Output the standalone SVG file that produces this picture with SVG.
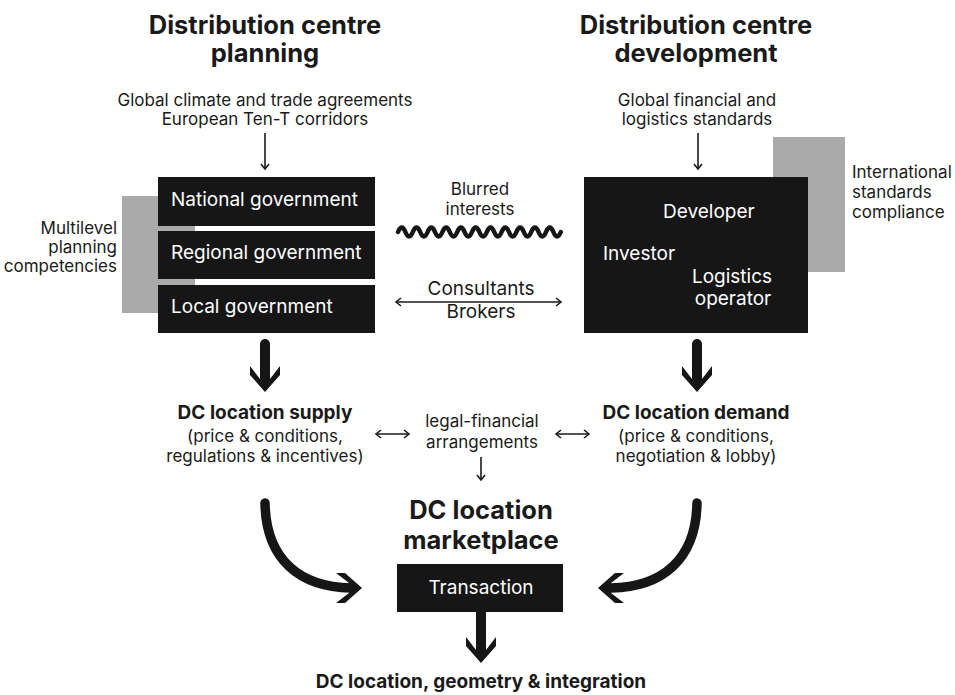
<svg xmlns="http://www.w3.org/2000/svg" width="955" height="695" viewBox="0 0 955 695">
<style>
text{font-family:Inter,"Liberation Sans",sans-serif;fill:#1a1a1a}
.t{font-size:25.5px;font-weight:700;text-anchor:middle}
.s{font-size:17px;text-anchor:middle}
.sb{font-size:19px;font-weight:700;text-anchor:middle}
.w{fill:#fff;font-size:19px}
.box{fill:#161616}
.gray{fill:#aaaaaa}
.thin{stroke:#1a1a1a;stroke-width:1.6;fill:none}
.thick{stroke:#161616;stroke-width:10;fill:none;stroke-linecap:round}
.head{fill:#161616}
</style>
<defs>
<marker id="ah" viewBox="-7 -6 9 12" markerWidth="9" markerHeight="12" refX="0" refY="0" orient="auto-start-reverse" markerUnits="userSpaceOnUse">
<path d="M-5,-4 L0,0 L-5,4" fill="none" stroke="#1a1a1a" stroke-width="1.6"/>
</marker>
<path id="hd" d="M0,0 L-17,-15 L-26,-15 L-13,-5 L-13,5 L-26,15 L-17,15 Z"/>
</defs>

<g id="title-planning">
<text class="t" x="265" y="34">Distribution centre</text>
<text class="t" x="265" y="62">planning</text>
</g>
<g id="title-development">
<text class="t" x="696" y="34">Distribution centre</text>
<text class="t" x="696" y="62">development</text>
</g>
<g id="global-climate">
<text class="s" x="265" y="106">Global climate and trade agreements</text>
<text class="s" x="265" y="125">European Ten-T corridors</text>
</g>
<g id="global-financial">
<text class="s" x="697" y="106">Global financial and</text>
<text class="s" x="697" y="125">logistics standards</text>
</g>

<g id="multilevel">
<rect class="gray" x="122" y="196" width="73" height="117"/>
<text class="s" x="117" y="234" style="text-anchor:end">Multilevel</text>
<text class="s" x="117" y="253" style="text-anchor:end">planning</text>
<text class="s" x="117" y="272" style="text-anchor:end">competencies</text>
</g>
<g id="national">
<rect class="box" x="158" y="177" width="217" height="49"/>
<text class="w" x="171" y="206">National government</text>
</g>
<g id="regional">
<rect class="box" x="158" y="231" width="217" height="48"/>
<text class="w" x="171" y="259">Regional government</text>
</g>
<g id="local">
<rect class="box" x="158" y="285" width="217" height="48"/>
<text class="w" x="171" y="313">Local government</text>
</g>

<g id="international">
<rect class="gray" x="773" y="137" width="72" height="135"/>
<text class="s" x="852" y="178" style="text-anchor:start">International</text>
<text class="s" x="852" y="198" style="text-anchor:start">standards</text>
<text class="s" x="852" y="218" style="text-anchor:start">compliance</text>
</g>
<g id="development-actors">
<rect class="box" x="584" y="177" width="224" height="156"/>
<text class="w" x="663" y="218">Developer</text>
<text class="w" x="603" y="260">Investor</text>
<text class="w" x="732" y="283" text-anchor="middle">Logistics</text>
<text class="w" x="733" y="305" text-anchor="middle">operator</text>
</g>

<g id="blurred">
<text class="s" x="480" y="195">Blurred</text>
<text class="s" x="480" y="215">interests</text>
</g>
<g id="consultants">
<text x="481" y="295" style="font-size:19px;text-anchor:middle">Consultants</text>
<text x="481" y="318" style="font-size:19px;text-anchor:middle">Brokers</text>
</g>

<g id="supply">
<text class="sb" x="265" y="419">DC location supply</text>
<text class="s" x="265" y="442">(price &amp; conditions,</text>
<text class="s" x="265" y="462">regulations &amp; incentives)</text>
</g>
<g id="legal">
<text class="s" x="482" y="427">legal-financial</text>
<text class="s" x="482" y="448">arrangements</text>
</g>
<g id="demand">
<text class="sb" x="696" y="419">DC location demand</text>
<text class="s" x="696" y="442">(price &amp; conditions,</text>
<text class="s" x="696" y="462">negotiation &amp; lobby)</text>
</g>

<g id="marketplace">
<text class="t" x="481" y="519">DC location</text>
<text class="t" x="481" y="549">marketplace</text>
</g>
<g id="transaction">
<rect class="box" x="397" y="564" width="166" height="48"/>
<text class="w" x="481" y="594" text-anchor="middle">Transaction</text>
</g>
<g id="outcome">
<text x="481" y="688" style="font-size:19px;font-weight:700;text-anchor:middle">DC location, geometry &amp; integration</text>
</g>

<g id="connectors">
<line class="thin" x1="265" y1="133" x2="265" y2="169" marker-end="url(#ah)"/>
<line class="thin" x1="698" y1="133" x2="698" y2="169" marker-end="url(#ah)"/>
<path d="M398,232 q3.7,-9 7.4,0 t7.4,0 t7.4,0 t7.4,0 t7.4,0 t7.4,0 t7.4,0 t7.4,0 t7.4,0 t7.4,0 t7.4,0 t7.4,0 t7.4,0 t7.4,0 t7.4,0 t7.4,0 t7.4,0 t7.4,0 t7.4,0 t7.4,0 t7.4,0 t7.4,0" fill="none" stroke="#161616" stroke-width="4.5" stroke-linecap="round"/>
<line class="thin" x1="396" y1="302" x2="561" y2="302" marker-start="url(#ah)" marker-end="url(#ah)"/>
<line class="thin" x1="376" y1="434" x2="409" y2="434" marker-start="url(#ah)" marker-end="url(#ah)"/>
<line class="thin" x1="556" y1="434" x2="589" y2="434" marker-start="url(#ah)" marker-end="url(#ah)"/>
<line class="thin" x1="481" y1="457" x2="481" y2="480" marker-end="url(#ah)"/>

<line class="thick" x1="265" y1="344" x2="265" y2="380"/>
<use href="#hd" class="head" transform="translate(265,392) rotate(90)"/>
<line class="thick" x1="697" y1="344" x2="697" y2="380"/>
<use href="#hd" class="head" transform="translate(697,392) rotate(90)"/>

<path class="thick" d="M265,503 C266,560 300,587 351,588" style="stroke-width:9.5"/>
<use href="#hd" class="head" transform="translate(362,588)"/>
<path class="thick" d="M697,503 C696,560 662,587 611,588" style="stroke-width:9.5"/>
<use href="#hd" class="head" transform="translate(598,588) rotate(180)"/>

<line x1="481" y1="612" x2="481" y2="652" stroke="#161616" stroke-width="10"/>
<use href="#hd" class="head" transform="translate(481,663) rotate(90)"/>
</g>
</svg>
